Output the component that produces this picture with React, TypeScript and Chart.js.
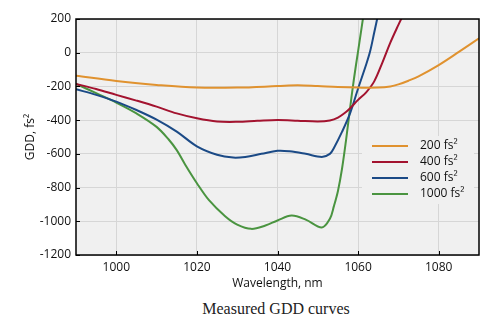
import React, { useEffect, useRef } from "react";
import { Chart, registerables } from "chart.js";

Chart.register(...registerables);

// ---- data (wavelength in nm, GDD in fs^2) ----
const wl200 = [990, 1000, 1010, 1020, 1030, 1040, 1045, 1050, 1055, 1060, 1065, 1068, 1070, 1072.5, 1075, 1080, 1085, 1090];
const gdd200 = [-136, -168, -191, -207, -207, -198, -193, -198, -204, -207, -207, -200, -188, -166, -140, -73, 5, 85];

const wl400 = [990, 995, 1000, 1005, 1010, 1015, 1020, 1025, 1030, 1035, 1040, 1045, 1050, 1053, 1055, 1057, 1058, 1060, 1062, 1064, 1066, 1068, 1070, 1071];
const gdd400 = [-185, -215, -250, -284, -320, -360, -389, -408, -410, -404, -399, -403, -408, -402, -385, -352, -330, -280, -235, -170, -60, 60, 165, 215];

const wl600 = [990, 995, 1000, 1005, 1010, 1015, 1020, 1025, 1029, 1032, 1036, 1040, 1043, 1047, 1051, 1053, 1054, 1056, 1058, 1060, 1062, 1063, 1064, 1065];
const gdd600 = [-217, -250, -290, -340, -397, -468, -555, -605, -622, -618, -600, -582, -585, -600, -618, -600, -565, -470, -360, -212, -70, 10, 120, 230];

const wl1000 = [990, 995, 1000, 1005, 1010, 1013, 1015, 1017, 1020, 1023, 1027, 1030, 1033.5, 1037, 1040, 1043.5, 1047, 1051, 1053, 1054, 1055, 1056, 1057, 1058, 1059, 1060, 1061, 1061.5];
const gdd1000 = [-185, -240, -296, -360, -440, -515, -578, -660, -774, -875, -970, -1020, -1045, -1025, -995, -966, -990, -1037, -985, -910, -820, -690, -520, -330, -150, 10, 170, 250];

const seriesLabels = ["200 fs\u00B2", "400 fs\u00B2", "600 fs\u00B2", "1000 fs\u00B2"];
const seriesColors = ["#e0922f", "#a3132f", "#1b4a86", "#4a9440"];

const xTicks = [1000, 1020, 1040, 1060, 1080];
const yTicks = [200, 0, -200, -400, -600, -800, -1000, -1200];

const xTitle = "Wavelength, nm";
const yTitle = "GDD, fs\u00B2";
const caption = "Measured GDD curves";

const FONT = "'Open Sans', 'DejaVu Sans', sans-serif";

function pts(xs: number[], ys: number[]) {
  return xs.map((x, i) => ({ x, y: ys[i] }));
}

const framePlugin = {
  id: "frame",
  beforeDraw(chart: any) {
    const { ctx, chartArea: a } = chart;
    ctx.save();
    ctx.fillStyle = "#f0f0f0";
    ctx.fillRect(a.left, a.top, a.right - a.left, a.bottom - a.top);
    ctx.restore();
  },
  afterDatasetsDraw(chart: any) {
    const { ctx, chartArea: a } = chart;
    const xs = chart.scales.x;
    const ys = chart.scales.y;
    // legend
    const lx = a.right - 107;
    const ly = a.top + 127;
    const rowH = 16;
    ctx.save();
    ctx.fillStyle = "#f0f0f0";
    ctx.fillRect(lx - 10, ly - 10, 112, rowH * 4 + 4);
    ctx.font = `12px ${FONT}`;
    ctx.textBaseline = "middle";
    chart.data.datasets.forEach((ds: any, i: number) => {
      const y = ly + i * rowH;
      ctx.strokeStyle = ds.borderColor;
      ctx.lineWidth = 2;
      ctx.beginPath();
      ctx.moveTo(lx, y);
      ctx.lineTo(lx + 36, y);
      ctx.stroke();
      ctx.fillStyle = "#111";
      ctx.fillText(ds.label, lx + 48, y);
    });
    // inward ticks
    ctx.strokeStyle = "#000";
    ctx.lineWidth = 1;
    ctx.beginPath();
    xs.ticks.forEach((t: any) => {
      const px = Math.round(xs.getPixelForValue(t.value)) + 0.5;
      ctx.moveTo(px, a.bottom);
      ctx.lineTo(px, a.bottom - 4);
    });
    ys.ticks.forEach((t: any) => {
      const py = Math.round(ys.getPixelForValue(t.value)) + 0.5;
      ctx.moveTo(a.left, py);
      ctx.lineTo(a.left + 4, py);
    });
    ctx.stroke();
    // frame
    ctx.lineWidth = 1.5;
    ctx.strokeRect(a.left, a.top, a.right - a.left, a.bottom - a.top);
    ctx.restore();
  },
};

export default function App() {
  const ref = useRef<HTMLCanvasElement>(null);

  useEffect(() => {
    if (!ref.current) return;
    const data = [
      pts(wl200, gdd200),
      pts(wl400, gdd400),
      pts(wl600, gdd600),
      pts(wl1000, gdd1000),
    ];
    const chart = new Chart(ref.current, {
      type: "line",
      data: {
        datasets: data.map((d, i) => ({
          label: seriesLabels[i],
          data: d,
          borderColor: seriesColors[i],
          backgroundColor: seriesColors[i],
          borderWidth: 2,
          pointRadius: 0,
          tension: 0.35,
          fill: false,
        })),
      },
      options: {
        animation: false,
        responsive: false,
        maintainAspectRatio: false,
        layout: { padding: { left: 23, top: 19, right: 17, bottom: 0 } },
        plugins: {
          legend: { display: false },
          tooltip: { enabled: false },
        },
        scales: {
          x: {
            type: "linear",
            min: 990,
            max: 1090,
            afterBuildTicks: (s: any) => {
              s.ticks = xTicks.map((v) => ({ value: v }));
            },
            afterFit: (s: any) => {
              s.height = 40;
            },
            grid: { color: "#d6d6d6", drawTicks: false },
            border: { display: false },
            ticks: {
              color: "#111",
              font: { family: FONT, size: 12 },
              padding: 5,
              callback: (v: any) => String(v),
            },
            title: {
              display: true,
              text: xTitle,
              color: "#111",
              font: { family: FONT, size: 12 },
              padding: { top: 0, bottom: 4 },
            },
          },
          y: {
            type: "linear",
            min: -1200,
            max: 200,
            afterBuildTicks: (s: any) => {
              s.ticks = yTicks.map((v) => ({ value: v }));
            },
            afterFit: (s: any) => {
              s.width = 53;
            },
            grid: { color: "#d6d6d6", drawTicks: false },
            border: { display: false },
            ticks: {
              color: "#111",
              font: { family: FONT, size: 12 },
              padding: 5,
              callback: (v: any) => String(v),
            },
            title: {
              display: true,
              text: yTitle,
              color: "#111",
              font: { family: FONT, size: 12 },
              padding: { top: 0, bottom: 0 },
            },
          },
        },
      },
      plugins: [framePlugin],
    });
    return () => chart.destroy();
  }, []);

  return (
    <div style={{ position: "absolute", left: 0, top: 0, width: 496, height: 329, background: "#fff" }}>
      <canvas ref={ref} width={496} height={295} style={{ display: "block", width: 496, height: 295 }} />
      <div
        style={{
          position: "absolute",
          left: 176,
          top: 300,
          width: 200,
          textAlign: "center",
          fontFamily: "'Liberation Serif', 'DejaVu Serif', serif",
          fontSize: 16,
          color: "#222",
          whiteSpace: "nowrap",
        }}
      >
        {caption}
      </div>
    </div>
  );
}
